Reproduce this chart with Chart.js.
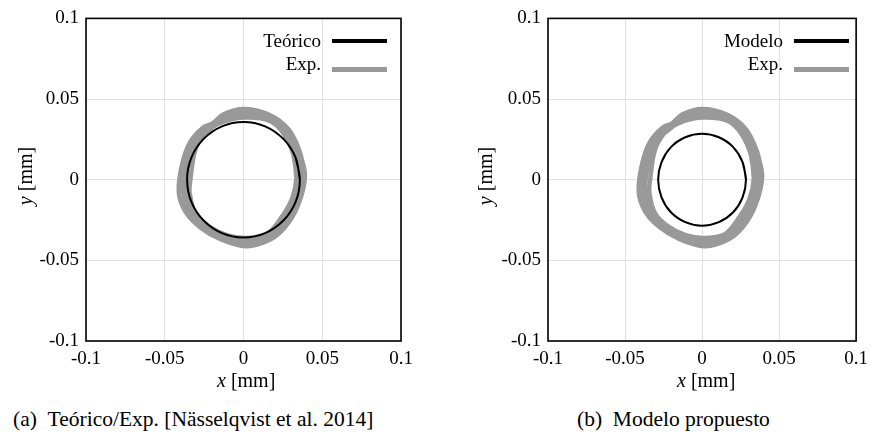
<!DOCTYPE html>
<html>
<head>
<meta charset="utf-8">
<script src="https://cdn.jsdelivr.net/npm/chart.js"></script>
<style>
  body { margin: 0; background: #fff; width: 875px; height: 444px; position: relative; overflow: hidden;
         font-family: 'Liberation Serif', 'Times New Roman', serif; color: #000; }
  .panel { position: absolute; top: 0; height: 400px; }
  .txt { position: absolute; white-space: nowrap; }
  .leg { font-size: 19px; line-height: 20px; text-align: right; }
  .sw { position: absolute; height: 4px; }
  .ax { font-size: 20px; line-height: 24px; }
  .yax { width: 80px; text-align: center; transform: rotate(-90deg); }
  .cap { font-size: 21.5px; line-height: 26px; }
  i { font-style: italic; }
</style>
</head>
<body>
<div class="panel" style="left:0;width:437px"><canvas id="chartA"></canvas></div>
<div class="panel" style="left:440px;width:435px"><canvas id="chartB"></canvas></div>

<!-- legends -->
<div class="txt leg" style="right:554px;top:31px">Teórico</div>
<div class="sw" style="left:332px;top:39px;width:55px;background:#000"></div>
<div class="txt leg" style="right:554px;top:54px">Exp.</div>
<div class="sw" style="left:332px;top:67px;width:55px;background:#999;height:4.5px"></div>

<div class="txt leg" style="right:92px;top:31px">Modelo</div>
<div class="sw" style="left:794px;top:39px;width:55px;background:#000"></div>
<div class="txt leg" style="right:92px;top:54px">Exp.</div>
<div class="sw" style="left:794px;top:67px;width:55px;background:#999;height:4.5px"></div>

<!-- axis titles -->
<div class="txt ax" style="left:217px;top:368px"><i>x</i>&nbsp;[mm]</div>
<div class="txt ax" style="left:677px;top:368px"><i>x</i>&nbsp;[mm]</div>
<div class="txt ax yax" style="left:-15px;top:164px"><i>y</i>&nbsp;[mm]</div>
<div class="txt ax yax" style="left:445px;top:164px"><i>y</i>&nbsp;[mm]</div>

<!-- captions -->
<div class="txt cap" style="left:13px;top:406px">(a)&nbsp;&nbsp;Teórico/Exp. [Nässelqvist et al. 2014]</div>
<div class="txt cap" style="left:577px;top:406px">(b)&nbsp;&nbsp;Modelo propuesto</div>

<script>
// axis ticks
const tickValues = [-0.1, -0.05, 0, 0.05, 0.1];
const tickLabels = ['-0.1', '-0.05', '0', '0.05', '0.1'];

// theoretical orbit (panel a)
const teoricoX = [0.0358, 0.0331, 0.0253, 0.0137, 0, -0.0137, -0.0253, -0.0331, -0.0358, -0.0331, -0.0253, -0.0137, 0, 0.0137, 0.0253, 0.0331];
const teoricoY = [0, 0.0137, 0.0253, 0.0331, 0.0358, 0.0331, 0.0253, 0.0137, 0, -0.0137, -0.0253, -0.0331, -0.0358, -0.0331, -0.0253, -0.0137];

// proposed model orbit (panel b)
const modeloX = [0.0285, 0.0263, 0.0202, 0.0109, 0, -0.0109, -0.0202, -0.0263, -0.0285, -0.0263, -0.0202, -0.0109, 0, 0.0109, 0.0202, 0.0263];
const modeloY = [0, 0.0109, 0.0202, 0.0263, 0.0285, 0.0263, 0.0202, 0.0109, 0, -0.0109, -0.0202, -0.0263, -0.0285, -0.0263, -0.0202, -0.0109];

// experimental orbits (same measurement in both panels): outer, middle and inner traces of the band
const expOuterX = [0.0390, 0.0357, 0.0284, 0.0160, 0.0000, -0.0130, -0.0193, -0.0255, -0.0338, -0.0390, -0.0411, -0.0370, -0.0276, -0.0152, 0.0015, 0.0160, 0.0264, 0.0347];
const expOuterY = [0.0020, 0.0173, 0.0314, 0.0404, 0.0438, 0.0404, 0.0350, 0.0324, 0.0234, 0.0094, -0.0076, -0.0196, -0.0294, -0.0366, -0.0412, -0.0376, -0.0294, -0.0156];

const expMidX = [0.0363, 0.0338, 0.0269, 0.0163, 0.0000, -0.0143, -0.0215, -0.0290, -0.0345, -0.0375, -0.0376, -0.0338, -0.0250, -0.0133, 0.0015, 0.0152, 0.0248, 0.0327];
const expMidY = [0.0015, 0.0162, 0.0300, 0.0384, 0.0411, 0.0376, 0.0320, 0.0262, 0.0150, 0.0000, -0.0078, -0.0200, -0.0291, -0.0353, -0.0386, -0.0358, -0.0270, -0.0139];

const expInnerX = [0.0336, 0.0318, 0.0254, 0.0167, 0.0000, -0.0159, -0.0246, -0.0307, -0.0336, -0.0342, -0.0307, -0.0223, -0.0115, 0.0015, 0.0145, 0.0232, 0.0307];
const expInnerY = [0.0010, 0.0151, 0.0287, 0.0365, 0.0385, 0.0348, 0.0287, 0.0181, 0.0010, -0.0080, -0.0205, -0.0288, -0.0340, -0.0361, -0.0340, -0.0246, -0.0121];

// build closed loop (repeat the first two points so the spline closes smoothly)
function loop(xs, ys) {
    var pts = xs.map(function(x, i) { return {x: x, y: ys[i]}; });
    return pts.concat(pts.slice(0, 2));
}

var frame = {
    id: 'frame',
    afterDraw: function(chart) {
        var a = chart.chartArea, ctx = chart.ctx;
        ctx.save();
        ctx.strokeStyle = '#000';
        ctx.lineWidth = 1.6;
        ctx.strokeRect(a.left, a.top, a.right - a.left, a.bottom - a.top);
        ctx.restore();
    }
};

function axis(fit) {
    return {
        type: 'linear', min: -0.1, max: 0.1,
        afterBuildTicks: function(s) { s.ticks = tickValues.map(function(v) { return {value: v}; }); },
        afterFit: fit,
        grid: { color: '#e2e2e2', lineWidth: 1, drawTicks: false },
        border: { display: false },
        ticks: {
            padding: 7, color: '#000', maxRotation: 0,
            font: { family: "'Liberation Serif', serif", size: 19 },
            callback: function(v, i) { return tickLabels[i]; }
        }
    };
}

function makePanel(id, modelX, modelY, yWidth, padRight) {
    var expStyle = { showLine: true, pointRadius: 0, borderColor: '#999', tension: 0.35, fill: false };
    new Chart(document.getElementById(id), {
        type: 'scatter',
        data: {
            datasets: [
                { label: 'model', data: loop(modelX, modelY), showLine: true, pointRadius: 0,
                  borderColor: '#000', borderWidth: 2, tension: 0.35, fill: false },
                Object.assign({ label: 'Exp.', data: loop(expOuterX, expOuterY), borderWidth: 4.5 }, expStyle),
                Object.assign({ label: 'Exp. mid', data: loop(expMidX, expMidY), borderWidth: 7 }, expStyle),
                Object.assign({ label: 'Exp. in', data: loop(expInnerX, expInnerY), borderWidth: 4.5 }, expStyle)
            ]
        },
        options: {
            responsive: true,
            maintainAspectRatio: false,
            animation: false,
            layout: { padding: { left: 0, top: 14, right: padRight, bottom: 0 } },
            plugins: { legend: { display: false }, tooltip: { enabled: false } },
            scales: {
                x: axis(function(s) { s.height = 59; }),
                y: axis(function(s) { s.width = yWidth; })
            }
        },
        plugins: [frame]
    });
}

makePanel('chartA', teoricoX, teoricoY, 86, 36);
makePanel('chartB', modeloX, modeloY, 108, 13);
</script>
</body>
</html>
